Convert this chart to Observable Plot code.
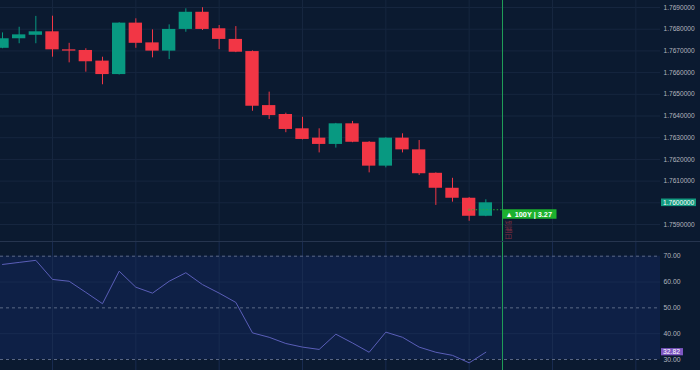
<!DOCTYPE html>
<html><head><meta charset="utf-8">
<script src="https://cdn.jsdelivr.net/npm/d3@7"></script>
<script src="https://cdn.jsdelivr.net/npm/@observablehq/plot@0.6"></script>
<style>
html,body{margin:0;padding:0;background:#0b1a30;}
#chart{width:700px;height:370px;overflow:hidden;background:#0b1a30;}
#sep{height:1px;background:#26354f;}
svg{display:block;}
</style></head><body>
<div id="chart"><div id="main"></div><div id="sep"></div><div id="rsi"></div></div>
<script>
// ---- data ----
const opens  = [1.76712,1.76756,1.76772,1.76788,1.76705,1.76702,1.76653,1.76591,1.76828,1.76737,1.76699,1.76799,1.76878,1.76802,1.76753,1.76697,1.76448,1.76407,1.76341,1.76298,1.76269,1.76364,1.76279,1.76169,1.76298,1.76244,1.76136,1.76067,1.76021,1.75938];
const highs  = [1.76783,1.76809,1.76859,1.76860,1.76735,1.76710,1.76671,1.76830,1.76848,1.76797,1.76820,1.76894,1.76899,1.76817,1.76812,1.76700,1.76510,1.76413,1.76394,1.76341,1.76366,1.76375,1.76282,1.76300,1.76318,1.76287,1.76138,1.76113,1.76024,1.76014];
const lows   = [1.76710,1.76733,1.76733,1.76671,1.76645,1.76602,1.76544,1.76589,1.76712,1.76668,1.76660,1.76786,1.76794,1.76706,1.76692,1.76422,1.76384,1.76323,1.76290,1.76230,1.76252,1.76277,1.76138,1.76161,1.76230,1.76126,1.75988,1.76003,1.75915,1.75936];
const closes = [1.76756,1.76774,1.76788,1.76705,1.76699,1.76650,1.76591,1.76828,1.76735,1.76699,1.76799,1.76878,1.76799,1.76753,1.76694,1.76445,1.76402,1.76338,1.76292,1.76269,1.76364,1.76279,1.76169,1.76298,1.76244,1.76134,1.76067,1.76021,1.75938,1.76000];
const rsiValues = [66.8,67.6,68.4,61.0,60.3,56.0,51.6,64.2,58.0,55.7,60.3,63.6,59.0,55.7,52.1,40.3,38.6,36.2,34.8,33.9,39.8,36.4,32.8,40.6,38.6,34.8,32.8,31.6,28.7,32.82];
const priceTicks = [1.759,1.760,1.761,1.762,1.763,1.764,1.765,1.766,1.767,1.768,1.769];
const rsiTicks = [30,40,50,60,70];
const rsiDashed = [30,50,70];
const rsiSolid = [40,60];
const gridCandles = [3,8,13,18,23,28,33,38];
const markerIndex = 30;
const lastPrice = 1.76;
const lastRsi = 32.82;
const orderPrice = 1.75968;
const orderStartIndex = 28;
const orderLabel = "▲ 100Y | 3.27";
const expiryText = "到期日";

// ---- styling ----
const BG = "#0b1a30", GRID = "#16263f", RED = "#f23645", GREEN = "#089981";
const FONT = "'Liberation Sans', Arial, sans-serif";
const xDomain = [-0.12, 39.48];

const candles = opens.map((o, i) => ({i, open: o, high: highs[i], low: lows[i], close: closes[i], color: closes[i] >= o ? GREEN : RED}));

const main = Plot.plot({
  width: 700, height: 241,
  marginLeft: 0, marginRight: 40, marginTop: 0, marginBottom: 0,
  style: {background: BG, color: "#b2b5be", fontFamily: FONT, fontSize: "6.6px", overflow: "visible"},
  x: {domain: xDomain, axis: null},
  y: {domain: [1.758217, 1.769323], axis: null},
  marks: [
    Plot.ruleY(priceTicks, {stroke: GRID}),
    Plot.ruleX(gridCandles, {stroke: GRID}),
    Plot.axisY(priceTicks.filter(d => d !== lastPrice), {anchor: "right", tickSize: 0, tickPadding: 3, tickFormat: d => d.toFixed(7), fill: "#b2b5be", fontSize: 6.6}),
    Plot.ruleX(candles, {x: "i", y1: "low", y2: "high", stroke: "color", strokeWidth: 1}),
    Plot.rect(candles, {x1: d => d.i - 0.4, x2: d => d.i + 0.4, y1: "open", y2: "close", fill: "color"}),
    Plot.ruleY([orderPrice], {x1: orderStartIndex, x2: markerIndex, stroke: "#25b035", strokeDasharray: "1.5,2"}),
    Plot.dot([orderPrice], {x: orderStartIndex, y: d => d, r: 1.3, fill: "#8f7c3e"}),
    Plot.ruleX([markerIndex], {stroke: "#1f9d57"})
  ]
});
document.getElementById("main").appendChild(main);

// tags drawn with the plot's own scales
{
  const sx = main.scale("x"), sy = main.scale("y");
  const svg = d3.select(main);
  const right = sx.range[1];
  const yp = sy.apply(lastPrice);
  svg.append("rect").attr("x", right + 1).attr("y", yp - 3.8).attr("width", 35).attr("height", 7.6).attr("fill", "#139a80");
  svg.append("text").attr("x", right + 3).attr("y", yp).attr("dy", "0.35em").attr("fill", "#fff").attr("text-anchor", "start")
     .attr("font-size", 6.6).attr("font-family", FONT).text(lastPrice.toFixed(7));
  const xo = sx.apply(markerIndex), yo = sy.apply(orderPrice);
  svg.append("rect").attr("x", xo + 0.5).attr("y", yo).attr("width", 54).attr("height", 9.5).attr("fill", "#1db12e");
  svg.append("text").attr("x", xo + 3.5).attr("y", yo + 4.9).attr("dy", "0.35em").attr("fill", "#fff").attr("text-anchor", "start")
     .attr("font-size", 7.3).attr("font-weight", "bold").attr("font-family", FONT).text(orderLabel);
  svg.append("text").attr("transform", `translate(${xo + 3},${yo + 11}) rotate(90)`).attr("fill", "#8a3042").attr("text-anchor", "start")
     .attr("font-size", 6.5).attr("font-family", "'Noto Sans CJK SC', sans-serif").attr("dy", "-0.15em").text(expiryText);
}

const rsiPlot = Plot.plot({
  width: 700, height: 128,
  marginLeft: 0, marginRight: 40, marginTop: 0, marginBottom: 0,
  style: {background: BG, color: "#b2b5be", fontFamily: FONT, fontSize: "6.8px", overflow: "visible"},
  x: {domain: xDomain, axis: null},
  y: {domain: [25.74, 75.305], axis: null},
  marks: [
    Plot.rect([0], {x1: xDomain[0], x2: xDomain[1], y1: 30, y2: 70, fill: "#0e2046"}),
    Plot.ruleY(rsiSolid, {stroke: "#182b50"}),
    Plot.ruleX(gridCandles, {stroke: "#182b50"}),
    Plot.ruleY(rsiDashed, {stroke: "#5b6886", strokeDasharray: "3,3"}),
    Plot.axisY(rsiTicks, {anchor: "right", tickSize: 0, tickPadding: 3, tickFormat: d => d.toFixed(2), fill: "#b2b5be", fontSize: 6.8}),
    Plot.line(rsiValues, {x: (d, i) => i, y: d => d, stroke: "#5a5eb8", strokeWidth: 1}),
    Plot.ruleX([markerIndex], {stroke: "#1f9d57"})
  ]
});
document.getElementById("rsi").appendChild(rsiPlot);
{
  const sx = rsiPlot.scale("x"), sy = rsiPlot.scale("y");
  const svg = d3.select(rsiPlot);
  const right = sx.range[1];
  const yr = sy.apply(lastRsi);
  svg.append("rect").attr("x", right + 1).attr("y", yr - 3.6).attr("width", 22).attr("height", 7.2).attr("fill", "#7e57c2");
  svg.append("text").attr("x", right + 3).attr("y", yr).attr("dy", "0.35em").attr("fill", "#fff").attr("text-anchor", "start")
     .attr("font-size", 6.8).attr("font-family", FONT).text(lastRsi.toFixed(2));
}
</script>
</body></html>
